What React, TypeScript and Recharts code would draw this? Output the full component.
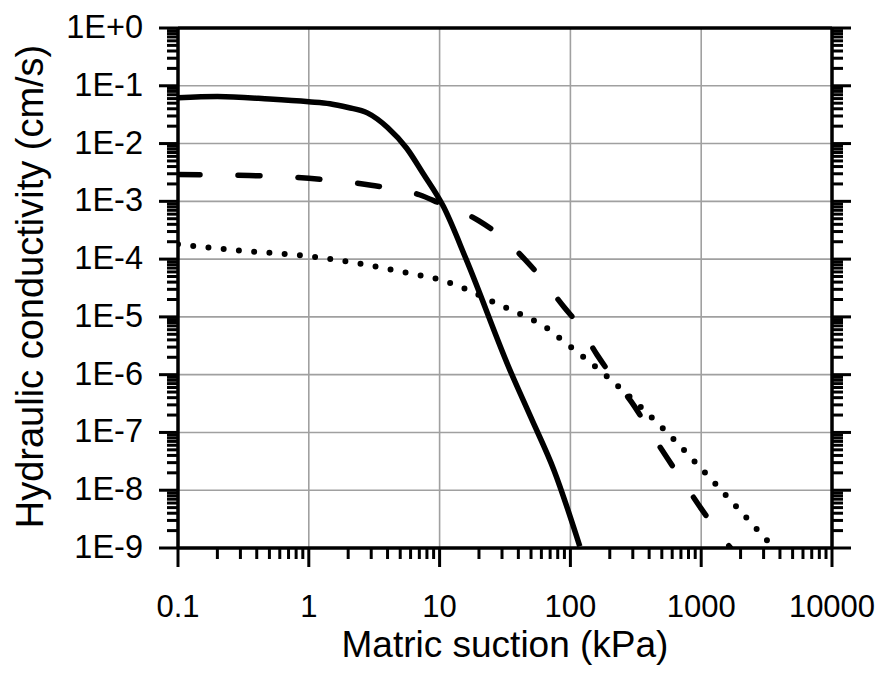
import React from 'react';
import { LineChart, Line, XAxis, YAxis, ReferenceLine } from 'recharts';

// ---- tick values ----
const X_MAJOR = [0.1, 1, 10, 100, 1000, 10000];
const X_LABELS = ['0.1', '1', '10', '100', '1000', '10000'];
const Y_MAJOR = [1, 1e-1, 1e-2, 1e-3, 1e-4, 1e-5, 1e-6, 1e-7, 1e-8, 1e-9];
const Y_LABELS = ['1E+0', '1E-1', '1E-2', '1E-3', '1E-4', '1E-5', '1E-6', '1E-7', '1E-8', '1E-9'];
const MINOR_MULTIPLIERS = [2, 3, 4, 5, 6, 7, 8, 9];

const X_GRID = [1, 10, 100, 1000];
const Y_GRID = [1e-1, 1e-2, 1e-3, 1e-4, 1e-5, 1e-6, 1e-7, 1e-8];

// ---- series: matric suction (kPa) vs hydraulic conductivity (cm/s) ----
const suctionSolid = [0.1, 0.2, 0.5, 1, 1.45, 2, 2.8, 4, 5.6, 7.5, 10.7, 16, 34.5, 50, 75, 118];
const kSolid = [0.062, 0.065, 0.059, 0.053, 0.049, 0.042, 0.034, 0.019, 0.0083, 0.003, 8.1e-4, 9.8e-5, 1.2e-6, 1.8e-7, 2.2e-8, 1.07e-9];

const suctionDashed = [0.1, 0.35, 1, 3, 7, 10, 20, 30, 45, 60, 90, 115, 160, 210, 310, 400, 550, 700, 1000, 1300, 1680];
const kDashed = [2.9e-3, 2.8e-3, 2.5e-3, 1.9e-3, 1.3e-3, 9.3e-4, 4.6e-4, 2.4e-4, 9.8e-5, 4.7e-5, 1.45e-5, 7.4e-6, 2.2e-6, 9.1e-7, 2.8e-7, 1.1e-7, 3.6e-8, 1.6e-8, 4.8e-9, 2.1e-9, 1e-9];

const suctionDotted = [0.1, 0.3, 0.9, 2.5, 5.6, 10, 16, 26, 42, 67, 85, 195, 525, 1320, 3600];
const kDotted = [1.8e-4, 1.4e-4, 1.15e-4, 8.3e-5, 5.8e-5, 4.4e-5, 3.0e-5, 1.8e-5, 1.1e-5, 6.3e-6, 4.1e-6, 8.9e-7, 1.1e-7, 1.2e-8, 1e-9];

const toRows = (xs: number[], ys: number[]) => xs.map((s, i) => ({ s, k: ys[i] }));
const solidData = toRows(suctionSolid, kSolid);
const dashedData = toRows(suctionDashed, kDashed);
const dottedData = toRows(suctionDotted, kDotted);

const minorOf = (majors: number[]) =>
  majors.slice(0, -1).flatMap((d) => MINOR_MULTIPLIERS.map((m) => Number((m * d).toPrecision(3))));
const X_TICKS = [...X_MAJOR, ...minorOf(X_MAJOR)];
const yAsc = [...Y_MAJOR].reverse();
const Y_TICKS = [...Y_MAJOR, ...minorOf(yAsc)];

const FONT = '"Liberation Sans", Arial, Helvetica, sans-serif';
const MAJOR_LEN = 19;
const MINOR_LEN = 11;
const TICK_W = 3;

const majorIndex = (v: number, majors: number[]) =>
  majors.findIndex((m) => Math.abs(Math.log10(v) - Math.log10(m)) < 1e-6);

const BottomTick = (props: any) => {
  const { x, y, payload } = props;
  const idx = majorIndex(payload.value, X_MAJOR);
  const len = idx >= 0 ? MAJOR_LEN : MINOR_LEN;
  return (
    <g>
      <line x1={x} y1={y} x2={x} y2={y + len} stroke="#000" strokeWidth={TICK_W} />
      {idx >= 0 && (
        <text x={x} y={y + 69} textAnchor="middle" fontSize={31} fontFamily={FONT} fill="#000">
          {X_LABELS[idx]}
        </text>
      )}
    </g>
  );
};

const TopTick = (props: any) => {
  const { x, y, payload } = props;
  const idx = majorIndex(payload.value, X_MAJOR);
  const len = idx >= 0 ? MAJOR_LEN : MINOR_LEN;
  return <line x1={x} y1={y} x2={x} y2={y - len} stroke="#000" strokeWidth={TICK_W} />;
};

const LeftTick = (props: any) => {
  const { x, y, payload } = props;
  const idx = majorIndex(payload.value, Y_MAJOR);
  const len = idx >= 0 ? MAJOR_LEN : MINOR_LEN;
  return (
    <g>
      <line x1={x} y1={y} x2={x - len} y2={y} stroke="#000" strokeWidth={TICK_W} />
      {idx >= 0 && (
        <text x={x - 35} y={y + 10} textAnchor="end" fontSize={32.5} fontFamily={FONT} fill="#000">
          {Y_LABELS[idx]}
        </text>
      )}
    </g>
  );
};

const RightTick = (props: any) => {
  const { x, y, payload } = props;
  const idx = majorIndex(payload.value, Y_MAJOR);
  const len = idx >= 0 ? MAJOR_LEN : MINOR_LEN;
  return <line x1={x} y1={y} x2={x + len} y2={y} stroke="#000" strokeWidth={TICK_W} />;
};

const XTitle = (props: any) => {
  const vb = props.viewBox || {};
  return (
    <text x={vb.x + vb.width / 2} y={vb.y + 109} textAnchor="middle" fontSize={37} fontFamily={FONT} fill="#000">
      Matric suction (kPa)
    </text>
  );
};

const YTitle = (props: any) => {
  const vb = props.viewBox || {};
  const cx = 43;
  const cy = vb.y + vb.height / 2 - 1.5;
  return (
    <text
      x={cx}
      y={cy}
      transform={`rotate(-90, ${cx}, ${cy})`}
      textAnchor="middle"
      fontSize={38}
      fontFamily={FONT}
      fill="#000"
    >
      Hydraulic conductivity (cm/s)
    </text>
  );
};

const axisLine = { stroke: '#000', strokeWidth: 3.5 };

export default function App() {
  return (
    <div style={{ position: 'absolute', left: 0, top: 0, background: '#fff' }}>
      <LineChart width={882} height={681} margin={{ top: 0, right: 0, bottom: 0, left: 0 }}>
        <XAxis
          dataKey="s"
          type="number"
          scale="log"
          domain={[0.1, 10000]}
          allowDataOverflow
          ticks={X_TICKS}
          interval={0}
          tick={BottomTick}
          tickLine={false}
          tickSize={0}
          tickMargin={0}
          axisLine={axisLine}
          height={133}
          label={<XTitle />}
        />
        <XAxis
          xAxisId="top"
          orientation="top"
          type="number"
          scale="log"
          domain={[0.1, 10000]}
          allowDataOverflow
          ticks={X_TICKS}
          interval={0}
          tick={TopTick}
          tickLine={false}
          tickSize={0}
          tickMargin={0}
          axisLine={axisLine}
          height={28}
        />
        <YAxis
          type="number"
          scale="log"
          domain={[1e-9, 1]}
          allowDataOverflow
          ticks={Y_TICKS}
          interval={0}
          tick={LeftTick}
          tickLine={false}
          tickSize={0}
          tickMargin={0}
          axisLine={axisLine}
          width={178}
          label={<YTitle />}
        />
        <YAxis
          yAxisId="right"
          orientation="right"
          type="number"
          scale="log"
          domain={[1e-9, 1]}
          allowDataOverflow
          ticks={Y_TICKS}
          interval={0}
          tick={RightTick}
          tickLine={false}
          tickSize={0}
          tickMargin={0}
          axisLine={axisLine}
          width={50}
        />
        {X_GRID.map((v) => (
          <ReferenceLine key={`gx${v}`} x={v} stroke="#a0a0a0" strokeWidth={1.6} />
        ))}
        {Y_GRID.map((v) => (
          <ReferenceLine key={`gy${v}`} y={v} stroke="#a0a0a0" strokeWidth={1.6} />
        ))}
        <Line
          data={dottedData}
          dataKey="k"
          type="monotone"
          stroke="#000"
          strokeWidth={6}
          strokeDasharray="0 15.3"
          strokeLinecap="round"
          dot={false}
          isAnimationActive={false}
        />
        <Line
          data={dashedData}
          dataKey="k"
          type="monotone"
          stroke="#000"
          strokeWidth={5.5}
          strokeDasharray="22 38"
          strokeLinecap="round"
          dot={false}
          isAnimationActive={false}
        />
        <Line
          data={solidData}
          dataKey="k"
          type="monotone"
          stroke="#000"
          strokeWidth={5.5}
          strokeLinejoin="round"
          dot={false}
          isAnimationActive={false}
        />
      </LineChart>
    </div>
  );
}
